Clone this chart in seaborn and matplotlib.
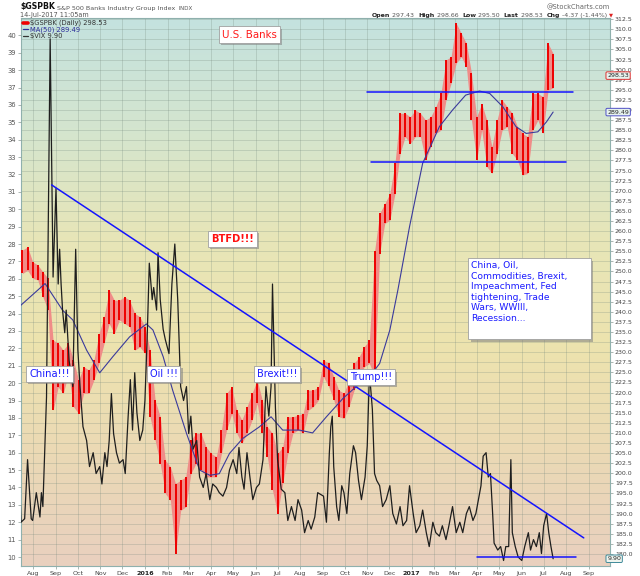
import numpy as np
import pandas as pd
import matplotlib
matplotlib.use("Agg")
import matplotlib.pyplot as plt
from matplotlib.colors import LinearSegmentedColormap
from matplotlib.lines import Line2D
from matplotlib.patches import Rectangle
import matplotlib.patheffects as pe
import seaborn as sns

# $GSPBK weekly low/high (weeks ending Friday)
first_week = "2015-07-17"
bank_low = [249.5, 250.3, 248.3, 247.9, 243.7, 240.4, 215.6, 221.4, 219.8, 224.7,
            216.5, 214.8, 219.8, 219.8, 223.1, 227.2, 232.2, 237.1, 234.6, 238.0,
            237.1, 236.3, 230.5, 231.3, 229.7, 214.0, 208.2, 202.4, 195.0, 193.3,
            180.1, 190.8, 191.7, 199.9, 202.4, 200.8, 199.1, 199.1, 199.1, 204.9,
            210.7, 214.8, 209.9, 207.4, 209.9, 213.2, 217.3, 209.9, 204.1, 195.8,
            190.0, 197.5, 204.9, 209.9, 210.7, 209.9, 215.6, 216.5, 218.1, 223.9,
            221.5, 218.2, 214.0, 213.6, 216.5, 220.6, 223.9, 226.4, 227.2, 224.0,
            254.4, 261.9, 262.7, 269.3, 279.2, 283.4, 281.7, 283.4, 283.4, 277.6,
            280.9, 284.2, 285.0, 292.5, 296.6, 301.6, 303.2, 300.7, 287.5, 277.6,
            285.0, 276.0, 274.3, 279.2, 285.0, 285.9, 279.2, 277.6, 273.9, 274.3,
            285.0, 287.5, 284.2, 294.9, 295.5]
bank_high = [255.3, 256.1, 252.4, 251.6, 249.9, 248.3, 233.0, 232.2, 230.5, 232.2,
             228.0, 223.1, 226.4, 225.6, 228.0, 234.6, 238.8, 245.4, 242.9, 242.9,
             243.7, 242.9, 239.6, 238.8, 236.3, 230.5, 218.1, 214.0, 203.2, 201.6,
             197.4, 198.3, 199.1, 208.2, 209.9, 209.9, 206.5, 204.9, 204.1, 210.7,
             219.8, 221.4, 215.6, 213.2, 216.5, 219.8, 223.1, 218.1, 211.5, 209.9,
             204.9, 206.5, 214.0, 214.0, 214.4, 214.8, 220.6, 220.6, 221.4, 228.1,
             227.2, 223.9, 220.6, 219.8, 223.1, 227.2, 228.9, 231.4, 233.0, 255.0,
             264.4, 266.8, 269.3, 276.8, 289.2, 289.2, 288.3, 290.0, 289.2, 287.5,
             288.3, 290.8, 294.1, 302.4, 303.2, 311.5, 309.0, 306.5, 299.1, 288.3,
             291.6, 287.5, 280.9, 287.5, 292.5, 290.8, 289.2, 285.9, 284.2, 283.4,
             294.1, 294.1, 293.3, 306.5, 304.0]

# 50 day moving average
ma_dates = ["2015-07-14", "2015-08-17", "2015-09-10", "2015-09-24", "2015-10-13",
            "2015-10-31", "2015-11-18", "2015-12-11", "2016-01-03", "2016-01-12",
            "2016-01-26", "2016-02-08", "2016-02-27", "2016-03-16", "2016-03-30",
            "2016-04-12", "2016-04-26", "2016-05-14", "2016-06-06", "2016-06-22",
            "2016-07-08", "2016-07-31", "2016-08-18", "2016-09-06", "2016-09-29",
            "2016-10-17", "2016-11-04", "2016-11-18", "2016-12-02", "2016-12-13",
            "2016-12-29", "2017-01-16", "2017-02-08", "2017-02-26", "2017-03-16",
            "2017-04-04", "2017-04-18", "2017-05-06", "2017-05-24", "2017-06-07",
            "2017-06-23", "2017-07-05", "2017-07-14"]
ma_vals = [241.5, 247.0, 240.4, 238.0, 230.5, 224.9, 228.9, 233.8, 237.0, 235.5,
           228.9, 220.6, 209.9, 200.8, 199.5, 199.9, 204.9, 208.6, 211.5, 214.0,
           210.7, 210.7, 210.0, 214.0, 218.6, 221.5, 223.9, 227.2, 235.5, 245.4,
           261.1, 276.8, 285.9, 290.0, 293.7, 294.7, 294.1, 290.8, 285.9, 284.2,
           284.6, 287.1, 289.5]

# $VIX (left scale)
vix_dates = ["2015-07-14", "2015-07-15", "2015-07-20", "2015-07-24", "2015-07-29",
             "2015-07-31", "2015-08-05", "2015-08-10", "2015-08-12", "2015-08-14",
             "2015-08-19", "2015-08-24", "2015-08-28", "2015-09-01", "2015-09-04",
             "2015-09-06", "2015-09-08", "2015-09-10", "2015-09-13", "2015-09-15",
             "2015-09-19", "2015-09-24", "2015-09-28", "2015-10-01", "2015-10-04",
             "2015-10-08", "2015-10-13", "2015-10-17", "2015-10-22", "2015-10-26",
             "2015-10-31", "2015-11-03", "2015-11-07", "2015-11-10", "2015-11-13",
             "2015-11-16", "2015-11-19", "2015-11-23", "2015-11-27", "2015-12-02",
             "2015-12-05", "2015-12-09", "2015-12-12", "2015-12-15", "2015-12-18",
             "2015-12-21", "2015-12-25", "2015-12-29", "2016-01-01", "2016-01-04",
             "2016-01-07", "2016-01-11", "2016-01-13", "2016-01-17", "2016-01-19",
             "2016-01-22", "2016-01-26", "2016-01-29", "2016-02-03", "2016-02-07",
             "2016-02-11", "2016-02-15", "2016-02-19", "2016-02-23", "2016-02-27",
             "2016-03-01", "2016-03-04", "2016-03-07", "2016-03-12", "2016-03-16",
             "2016-03-21", "2016-03-25", "2016-03-30", "2016-04-03", "2016-04-08",
             "2016-04-12", "2016-04-17", "2016-04-22", "2016-04-26", "2016-05-01",
             "2016-05-06", "2016-05-09", "2016-05-13", "2016-05-16", "2016-05-20",
             "2016-05-24", "2016-05-28", "2016-06-02", "2016-06-06", "2016-06-11",
             "2016-06-15", "2016-06-19", "2016-06-22", "2016-06-24", "2016-06-28",
             "2016-07-01", "2016-07-06", "2016-07-11", "2016-07-15", "2016-07-20",
             "2016-07-25", "2016-07-29", "2016-08-03", "2016-08-07", "2016-08-12",
             "2016-08-16", "2016-08-21", "2016-08-25", "2016-09-02", "2016-09-06",
             "2016-09-10", "2016-09-12", "2016-09-14", "2016-09-16", "2016-09-20",
             "2016-09-23", "2016-09-27", "2016-09-30", "2016-10-04", "2016-10-08",
             "2016-10-13", "2016-10-16", "2016-10-20", "2016-10-24", "2016-10-29",
             "2016-11-01", "2016-11-04", "2016-11-08", "2016-11-11", "2016-11-14",
             "2016-11-18", "2016-11-22", "2016-11-27", "2016-12-02", "2016-12-06",
             "2016-12-11", "2016-12-16", "2016-12-20", "2016-12-25", "2016-12-29",
             "2017-01-03", "2017-01-07", "2017-01-12", "2017-01-16", "2017-01-21",
             "2017-01-25", "2017-01-30", "2017-02-03", "2017-02-08", "2017-02-12",
             "2017-02-17", "2017-02-21", "2017-02-26", "2017-03-03", "2017-03-08",
             "2017-03-12", "2017-03-17", "2017-03-21", "2017-03-26", "2017-03-30",
             "2017-04-06", "2017-04-09", "2017-04-13", "2017-04-16", "2017-04-19",
             "2017-04-22", "2017-04-24", "2017-04-29", "2017-05-03", "2017-05-07",
             "2017-05-10", "2017-05-14", "2017-05-17", "2017-05-19", "2017-05-23",
             "2017-05-27", "2017-06-01", "2017-06-05", "2017-06-10", "2017-06-13",
             "2017-06-17", "2017-06-21", "2017-06-25", "2017-06-28", "2017-07-01",
             "2017-07-05", "2017-07-08", "2017-07-11", "2017-07-14"]
vix_vals = [13.3, 12.0, 12.2, 15.6, 12.2, 12.1, 13.7, 12.3, 13.7, 12.9,
            19.2, 39.8, 26.1, 31.2, 25.7, 27.7, 25.7, 24.2, 22.9, 24.2,
            21.3, 19.8, 27.7, 21.9, 19.8, 17.5, 16.7, 15.2, 16.0, 14.8,
            15.2, 14.2, 16.0, 15.2, 16.7, 19.4, 17.1, 16.0, 15.4, 15.6,
            14.8, 18.1, 20.2, 17.3, 20.6, 18.3, 16.7, 17.3, 19.0, 22.5,
            26.9, 24.8, 25.5, 24.2, 27.5, 24.8, 23.1, 22.5, 21.7, 25.7,
            28.0, 24.8, 19.8, 19.0, 19.8, 17.1, 18.1, 16.2, 16.7, 14.6,
            14.0, 14.8, 13.3, 14.2, 14.0, 13.7, 13.5, 14.0, 15.0, 15.6,
            14.8, 16.3, 14.6, 13.9, 16.0, 14.6, 13.3, 14.0, 14.2, 15.6,
            19.8, 18.1, 19.8, 25.7, 18.6, 15.6, 13.9, 13.7, 12.1, 12.9,
            12.1, 13.3, 12.7, 11.4, 12.1, 11.6, 12.3, 13.7, 13.5, 12.0,
            16.0, 17.5, 18.1, 15.2, 12.9, 12.1, 14.1, 13.7, 12.5, 14.8,
            16.4, 16.0, 14.4, 13.3, 14.6, 16.4, 20.6, 18.5, 14.8, 14.4,
            14.1, 12.9, 13.3, 14.1, 12.5, 11.9, 12.9, 11.8, 12.1, 14.1,
            12.5, 11.4, 11.8, 12.7, 11.4, 10.6, 12.0, 11.4, 11.2, 11.8,
            11.0, 11.8, 12.9, 11.4, 12.0, 11.4, 12.5, 12.9, 12.1, 12.5,
            14.1, 15.8, 16.0, 14.6, 14.8, 12.5, 10.8, 10.4, 10.6, 9.8,
            10.6, 10.6, 15.6, 11.4, 10.6, 10.0, 9.8, 10.6, 11.4, 10.4,
            11.0, 10.6, 11.4, 10.2, 11.8, 12.5, 11.4, 10.6, 9.9]

# hand drawn trendlines
vix_trend_dates = ["2015-08-26", "2017-08-25"]
vix_trend_vals = [31.4, 11.1]
vix_floor_dates = ["2017-03-31", "2017-08-14"]
vix_floor_vals = [10.0, 10.0]
bank_top_dates = ["2016-11-01", "2017-08-10"]
bank_top_vals = [294.4, 294.4]
bank_bot_dates = ["2016-11-06", "2017-08-01"]
bank_bot_vals = [277.0, 277.0]

last_close = 298.53
ma_last = 289.49
vix_last = 9.90

month_starts = pd.date_range("2015-08-01", "2017-09-01", freq="MS")
month_labels = [d.strftime("%Y") if d.month == 1 else d.strftime("%b") for d in month_starts]
bank_ticks = np.arange(180, 312.6, 2.5)
vix_ticks = list(range(10, 41))

sns.set_theme(style="white")
plt.rcParams["font.family"] = ["DejaVu Sans"]

fig = plt.figure(figsize=(6.4, 5.76), dpi=100)
rect = [21 / 640, 1 - 565.7 / 576, 589 / 640, 547.7 / 576]

# gradient background
bg = fig.add_axes(rect, zorder=-1)
grad = LinearSegmentedColormap.from_list(
    "bg", ["#c4e2df", "#d4e5cf", "#e7e6b8", "#ede3ae", "#ebd9b5", "#e9d0bf"])
bg.imshow(np.linspace(0, 1, 256)[:, None], cmap=grad, aspect="auto", extent=[0, 1, 0, 1])
bg.axis("off")

# price panel (right scale) and VIX panel (left scale)
ax = fig.add_axes(rect)
ax.patch.set_visible(False)
ax_v = ax.twinx()

weeks = pd.date_range(first_week, periods=len(bank_low), freq="W-FRI")
ax.fill_between(weeks, bank_low, bank_high, color="#f08c88", lw=0, zorder=2)
ax.vlines(weeks, bank_low, bank_high, color="#ee0000", lw=1.4, zorder=3)
sns.lineplot(x=pd.to_datetime(ma_dates), y=ma_vals, ax=ax, color="#3a3a9c", linewidth=0.8, zorder=4)
ax.plot(pd.to_datetime(bank_top_dates), bank_top_vals, color="#1414ff", lw=1.1, zorder=5)
ax.plot(pd.to_datetime(bank_bot_dates), bank_bot_vals, color="#1414ff", lw=1.1, zorder=5)

sns.lineplot(x=pd.to_datetime(vix_dates), y=vix_vals, ax=ax_v, color="#1e1e1e", linewidth=0.9)
ax_v.plot(pd.to_datetime(vix_trend_dates), vix_trend_vals, color="#1414ff", lw=1.1)
ax_v.plot(pd.to_datetime(vix_floor_dates), vix_floor_vals, color="#1414ff", lw=1.1)

ax.set_xlim(pd.Timestamp("2015-07-15"), pd.Timestamp("2017-09-30"))
ax.set_ylim(177.1, 312.8)
ax_v.set_ylim(9.5, 41.0)

ax.yaxis.set_ticks_position("right")
ax.yaxis.set_label_position("right")
ax_v.yaxis.set_ticks_position("left")
ax_v.yaxis.set_label_position("left")
ax.tick_params(axis="y", labelleft=False, labelright=True)
ax_v.tick_params(axis="y", labelleft=True, labelright=False)

ax.set_yticks(bank_ticks)
ax.set_yticklabels([f"{v:.1f}" for v in bank_ticks])
ax.set_xticks(month_starts)
ax.set_xticklabels(month_labels)
ax_v.set_yticks(vix_ticks)
ax_v.set_yticklabels([str(v) for v in vix_ticks])
for a in (ax, ax_v):
    a.set_xlabel("")
    a.set_ylabel("")

ax.grid(True, color="#74887c", alpha=0.3, linewidth=0.6)
ax.tick_params(axis="y", labelsize=4.5, labelcolor="#444", color="#8a9a94",
               length=2, width=0.5, pad=1.5)
ax.tick_params(axis="x", labelsize=4.6, labelcolor="#444", color="#8a9a94",
               length=2, width=0.5, pad=1.5, bottom=True)
ax_v.tick_params(axis="y", labelsize=4.9, labelcolor="#555", color="#8a9a94",
                 length=2, width=0.5, pad=1.5)
for lbl in ax.get_xticklabels():
    if lbl.get_text().isdigit():
        lbl.set_fontweight("bold")
        lbl.set_color("#222")
for s in ax.spines.values():
    s.set_color("#8fb0ad")
    s.set_linewidth(0.8)
for s in ax_v.spines.values():
    s.set_visible(False)

# value tags on the right edge
tag = dict(fontsize=4.5, va="center", ha="left", xytext=(-2, 0), textcoords="offset points",
           annotation_clip=False, zorder=10)
ax.annotate(f"{last_close:.2f}", xy=(1, last_close), xycoords=ax.get_yaxis_transform(),
            bbox=dict(boxstyle="round,pad=0.2", fc="#e6f2ee", ec="#e03030", lw=0.7), **tag)
ax.annotate(f"{ma_last:.2f}", xy=(1, ma_last), xycoords=ax.get_yaxis_transform(),
            bbox=dict(boxstyle="round,pad=0.2", fc="#e6f2ee", ec="#5050c8", lw=0.7), **tag)
ax_v.annotate(f"{vix_last:.2f}", xy=(1, vix_last), xycoords=ax_v.get_yaxis_transform(),
              bbox=dict(boxstyle="round,pad=0.2", fc="#eef4ee", ec="#3f8a9a", lw=0.7), **tag)

# header
def chain(pieces, x, y):
    prev = fig.text(x, y, pieces[0][0], fontsize=pieces[0][3], weight=pieces[0][1],
                    color=pieces[0][2], va="bottom")
    for s, w, c, size in pieces[1:]:
        prev = ax_v.annotate(s, xy=(1, 0), xycoords=prev, xytext=(0, 0),
                             textcoords="offset points", va="bottom", fontsize=size,
                             weight=w, color=c, annotation_clip=False)

chain([("$GSPBK", "bold", "#111", 5.6),
       (" S&P 500 Banks Industry Group Index", "normal", "#555", 4.6),
       ("  INDX", "normal", "#555", 4.0)], 20 / 640, 1 - 10.8 / 576)
fig.text(20 / 640, 1 - 18.3 / 576, "14-Jul-2017 11:05am", fontsize=4.7, color="#555", va="bottom")
fig.text(610 / 640, 1 - 10.0 / 576, "@StockCharts.com", fontsize=4.8, color="#666",
         va="bottom", ha="right")
chain([("Open", "bold", "#222", 4.5), (" 297.43  ", "normal", "#555", 4.5),
       ("High", "bold", "#222", 4.5), (" 298.66  ", "normal", "#555", 4.5),
       ("Low", "bold", "#222", 4.5), (" 295.50  ", "normal", "#555", 4.5),
       ("Last", "bold", "#222", 4.5), (" 298.53  ", "normal", "#555", 4.5),
       ("Chg", "bold", "#222", 4.5), (" -4.37 (-1.44%) ", "normal", "#555", 4.5),
       ("\u25bc", "normal", "#dd2222", 3.8)], 372 / 640, 1 - 17.8 / 576)

# legend inside the panel
legend_rows = [("$GSPBK (Daily) 298.53", "#333", "#ee0000", 24.8),
               ("MA(50) 289.49", "#2d2d9a", "#2d2d9a", 31.4),
               ("$VIX 9.90", "#333", "#333", 38.0)]
for txt, tc, lc, ypx in legend_rows:
    fig.text(29.5 / 640, 1 - ypx / 576, txt, fontsize=4.9, color=tc, va="baseline")
    fig.add_artist(Line2D([22.5 / 640, 27.5 / 640], [1 - (ypx - 2) / 576] * 2,
                          transform=fig.transFigure, color=lc,
                          lw=2.6 if lc == "#ee0000" else 0.9))

# comment boxes
shadow = [pe.SimplePatchShadow(offset=(1.6, -1.6), shadow_rgbFace="#808080", alpha=0.55), pe.Normal()]
notes = [("U.S. Banks", 249.5, 34.5, "#ff1a1a", "normal", 7.4),
         ("BTFD!!!", 232.5, 239.0, "#ff1010", "bold", 7.1),
         ("China!!!", 49.5, 374.0, "#1a1aff", "normal", 7.2),
         ("Oil !!!", 163.5, 374.0, "#1a1aff", "normal", 7.0),
         ("Brexit!!!", 276.7, 374.0, "#1a1aff", "normal", 7.0),
         ("Trump!!!", 371.2, 377.2, "#1a1aff", "normal", 7.0)]
for txt, xp, yp, col, w, size in notes:
    t = fig.text(xp / 640, 1 - yp / 576, txt, fontsize=size, color=col, weight=w,
                 ha="center", va="center", zorder=20,
                 bbox=dict(boxstyle="square,pad=0.3", fc="white", ec="#a0a0a0", lw=0.6))
    t.get_bbox_patch().set_path_effects(shadow)

box = Rectangle((468.3 / 640, 1 - 339.3 / 576), 122.4 / 640, 81 / 576,
                transform=fig.transFigure, fc="white", ec="#a0a0a0", lw=0.6, zorder=19)
box.set_path_effects(shadow)
fig.add_artist(box)
fig.text(471 / 640, 1 - 261 / 576,
         "China, Oil,\nCommodities, Brexit,\nImpeachment, Fed\ntightening, Trade\nWars, WWIII,\nRecession...",
         fontsize=6.6, color="#1a1aff", va="top", ha="left", linespacing=1.22, zorder=21)

fig.savefig("out.png", dpi=100, facecolor="white")
